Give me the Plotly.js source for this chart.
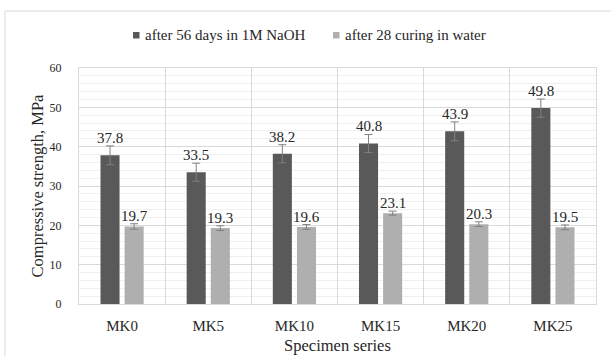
<!DOCTYPE html>
<html>
<head>
<meta charset="utf-8">
<script src="https://cdn.plot.ly/plotly-3.0.1.min.js"></script>
<style>html,body{margin:0;padding:0;background:#fff;}#chart{width:611px;height:356px;}</style>
</head>
<body>
<div id="chart"></div>
<script>
// ---- data ----
const categories = ["MK0", "MK5", "MK10", "MK15", "MK20", "MK25"];
const seriesNames = ["after 56 days in 1M NaOH", "after 28 curing in water"];
const naohValues = [37.8, 33.5, 38.2, 40.8, 43.9, 49.8];
const naohErrors = [2.4, 2.3, 2.3, 2.3, 2.4, 2.3];
const waterValues = [19.7, 19.3, 19.6, 23.1, 20.3, 19.5];
const waterErrors = [0.7, 0.6, 0.6, 0.5, 0.6, 0.6];
const yTickVals = [0, 10, 20, 30, 40, 50, 60];

// ---- style / layout ----
const FONT = "'Liberation Serif', 'DejaVu Serif', 'Times New Roman', Times, serif";
const colors = ["#595959", "#afafaf"];
const W = 611, H = 356;
const M = {l: 79, r: 15, t: 68, b: 52};
const PW = W - M.l - M.r, PH = H - M.t - M.b;
const px = x => (x - M.l) / PW;
const py = y => (H - M.b - y) / PH;
const bargap = 0.44, bargroupgap = 0.21;
const off = (1 - bargap) / 4;

const errStyle = {type: "data", color: "#808080", thickness: 1, width: 4, visible: true};
const traces = [
  {type: "bar", name: seriesNames[0], x: categories, y: naohValues,
   marker: {color: colors[0]}, error_y: Object.assign({array: naohErrors}, errStyle), showlegend: false},
  {type: "bar", name: seriesNames[1], x: categories, y: waterValues,
   marker: {color: colors[1]}, error_y: Object.assign({array: waterErrors}, errStyle), showlegend: false}
];

const annotations = [];
const series = [[naohValues, naohErrors, -off], [waterValues, waterErrors, off]];
series.forEach(([vals, errs, o]) => {
  vals.forEach((v, i) => {
    annotations.push({x: i + o, y: v + errs[i], xref: "x", yref: "y", text: v.toFixed(1),
      showarrow: false, yanchor: "bottom", xanchor: "center", yshift: -2,
      font: {family: FONT, size: 15, color: "#262626"}});
  });
});

// custom legend
const legendX = [[133, 143], [333, 343]];
const shapes = [];
seriesNames.forEach((n, k) => {
  const [mx, tx] = legendX[k];
  shapes.push({type: "rect", xref: "paper", yref: "paper", x0: px(mx), x1: px(mx + 6.5),
    y0: py(38.5), y1: py(32), fillcolor: colors[k], line: {width: 0}});
  annotations.push({xref: "paper", yref: "paper", x: px(tx), y: py(35), text: n, showarrow: false,
    xanchor: "left", yanchor: "middle", font: {family: FONT, size: 15, color: "#262626"}});
});
// outer chart border
shapes.push({type: "line", xref: "paper", yref: "paper", x0: px(5), x1: px(611), y0: py(11), y1: py(11),
  line: {color: "#d9d9d9", width: 1}});
shapes.push({type: "line", xref: "paper", yref: "paper", x0: px(5), x1: px(5), y0: py(11), y1: py(360),
  line: {color: "#d9d9d9", width: 1}});

const layout = {
  width: W, height: H, margin: M,
  paper_bgcolor: "#fff", plot_bgcolor: "#fff",
  barmode: "group", bargap: bargap, bargroupgap: bargroupgap,
  font: {family: FONT, color: "#262626"},
  showlegend: false,
  xaxis: {type: "category", categoryarray: categories, tickson: "boundaries",
    showgrid: true, gridcolor: "#d9d9d9", gridwidth: 1, ticks: "", range: [-0.5, 5.5],
    showline: true, linecolor: "#d9d9d9", mirror: true, zeroline: false,
    tickfont: {family: FONT, size: 15, color: "#262626"}, ticklabelstandoff: 8,
    title: {text: "Specimen series", font: {family: FONT, size: 16.5, color: "#262626"}, standoff: 6},
    fixedrange: true},
  xaxis2: {overlaying: "x", anchor: "y", type: "linear", range: [-0.5, 5.5],
    tickvals: categories.map((c, i) => i), showgrid: true, gridcolor: "#efefef",
    showticklabels: false, ticks: "", zeroline: false, showline: false},
  yaxis: {range: [0, 60], tickvals: yTickVals, showgrid: true, gridcolor: "#d9d9d9",
    minor: {dtick: 2, showgrid: true, gridcolor: "#efefef", ticks: ""},
    zeroline: false, ticks: "", showline: true, linecolor: "#d9d9d9", mirror: true,
    tickfont: {family: FONT, size: 12, color: "#262626"}, ticklabelstandoff: 14,
    title: {text: "Compressive strength, MPa", font: {family: FONT, size: 16.5, color: "#262626"}, standoff: 1},
    fixedrange: true},
  annotations: annotations,
  shapes: shapes
};

Plotly.newPlot("chart", traces, layout, {staticPlot: true, displayModeBar: false});
</script>
</body>
</html>
